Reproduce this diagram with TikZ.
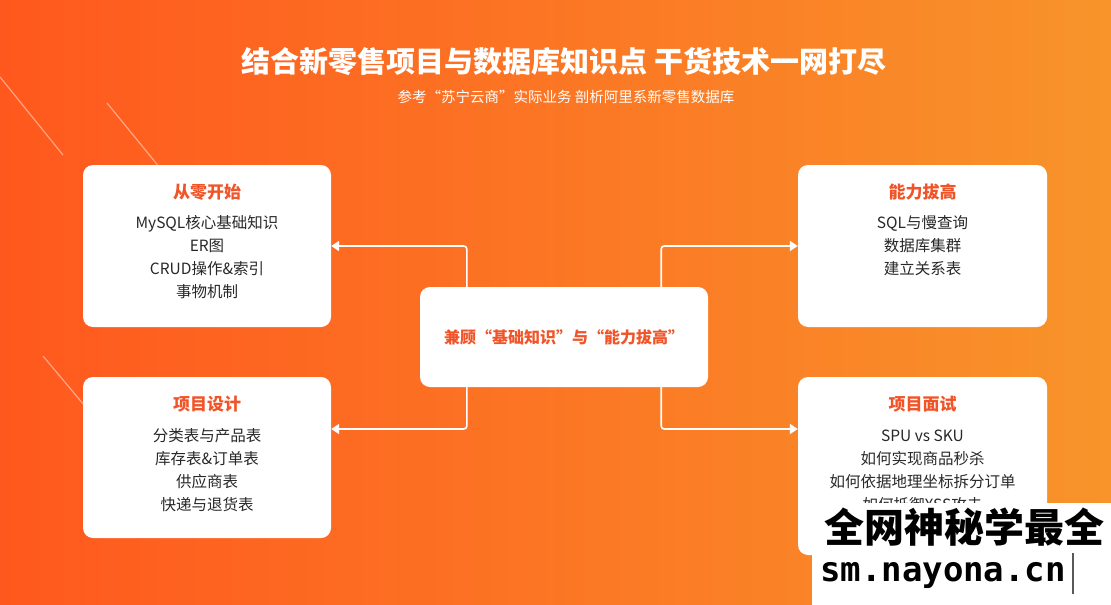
\documentclass[tikz,border=0pt]{standalone}
\usepackage{fontspec}
\setmainfont{Noto Sans CJK SC}
\newfontfamily\monof{DejaVu Sans Mono}
\usetikzlibrary{arrows.meta,calc}
\definecolor{bgL}{RGB}{255,88,30}
\definecolor{bgR}{RGB}{248,148,42}
\definecolor{ttl}{RGB}{240,84,40}
\definecolor{bodyc}{RGB}{40,40,40}
\tikzset{
  card/.style={fill=white, rounded corners=10pt, draw=none, inner sep=0pt},
  hd/.style={font=\fontsize{17}{20}\selectfont\bfseries, text=ttl, inner sep=0pt},
  bd/.style={font=\fontsize{15.5}{23}\selectfont, text=bodyc, align=center, inner sep=0pt},
  conn/.style={draw=white, line width=1.6pt, rounded corners=3pt, -{Triangle[width=10pt,length=8pt]}},
  deco/.style={draw=white, opacity=0.45, line width=1.2pt},
}
\begin{document}
\begin{tikzpicture}[x=1pt,y=-1pt]
\useasboundingbox (0,0) rectangle (1111,605);
\shade[left color=bgL,right color=bgR] (0,0) rectangle (1111,605);
% decorative lines
\draw[deco] (0,77) -- (63,155);
\draw[deco] (107,103) -- (160,168);
\draw[deco] (43,356) -- (84,405);
% title
\node[font=\fontsize{29}{34}\selectfont\bfseries, text=white] (title) at (564,62) {结合新零售项目与数据库知识点 干货技术一网打尽};
\node[font=\fontsize{14.5}{17}\selectfont, text=white] (sub) at (566,97) {参考“苏宁云商”实际业务 剖析阿里系新零售数据库};
% cards
\node[card, minimum width=248pt, minimum height=162pt] (tl) at (207,246) {};
\node[card, minimum width=249pt, minimum height=162pt] (tr) at (922.5,246) {};
\node[card, minimum width=248pt, minimum height=161pt] (bl) at (207,457.5) {};
\node[card, minimum width=249pt, minimum height=178pt] (br) at (922.5,466) {};
\node[card, minimum width=288pt, minimum height=100pt] (c) at (564,337) {};
% card texts
\node[hd] (tlh) at (207,192) {从零开始};
\node[bd] (tlb) at (207,257.5) {MySQL核心基础知识\\ER图\\CRUD操作\&索引\\事物机制};
\node[hd] (trh) at (922.5,192) {能力拔高};
\node[bd] (trb) at (922.5,246) {SQL与慢查询\\数据库集群\\建立关系表};
\node[hd] (blh) at (207,404) {项目设计};
\node[bd] (blb) at (207,470.5) {分类表与产品表\\库存表\&订单表\\供应商表\\快递与退货表};
\node[hd] (brh) at (922.5,404) {项目面试};
\node[bd] (brb) at (922.5,470.5) {SPU vs SKU\\如何实现商品秒杀\\如何依据地理坐标拆分订单\\如何抵御XSS攻击};
\node[font=\fontsize{16}{20}\selectfont\bfseries, text=ttl] (ct) at (564,337) {兼顾“基础知识”与“能力拔高”};
% connectors
\draw[conn] ([xshift=47pt]c.north west) |- (tl.east);
\draw[conn] ([xshift=-47pt]c.north east) |- (tr.west);
\draw[conn] ([xshift=47pt]c.south west) |- ([yshift=28.5pt]bl.east);
\draw[conn] ([xshift=-47pt]c.south east) |- ([yshift=37pt]br.west);
% watermark
\node[fill=white, anchor=north west, minimum width=299pt, minimum height=102pt, inner sep=0pt] (wm) at (812,503) {};
\node[font=\fontsize{40}{44}\selectfont\bfseries, text=black, inner sep=0pt] (wm1) at (964,527) {全网神秘学最全};
\node[font=\fontsize{34}{38}\monof\bfseries, text=black, inner sep=0pt, anchor=west] (wm2) at (820,575) {sm.nayona.cn};
\coordinate (cur1) at (1073,553);
\coordinate (cur2) at (1073,594);
\draw[draw=gray!70!black, line width=1.5pt] (cur1) -- (cur2);
\end{tikzpicture}
\end{document}
